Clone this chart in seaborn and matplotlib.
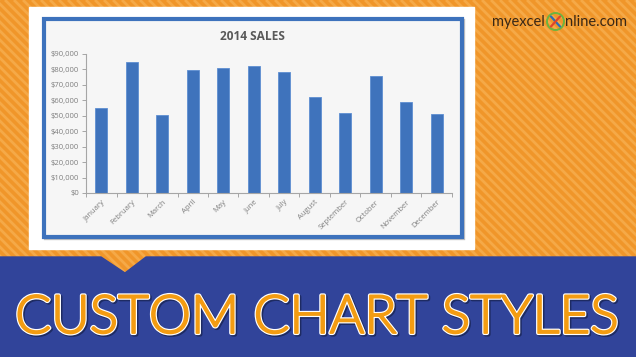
import matplotlib
matplotlib.use("Agg")
import matplotlib.pyplot as plt
import matplotlib.patheffects as pe
from matplotlib.patches import Rectangle, Polygon, Circle
from matplotlib.ticker import FuncFormatter, FixedLocator
from matplotlib import font_manager
import seaborn as sns
import pandas as pd

# ---- data ----
months = ["January", "February", "March", "April", "May", "June", "July",
          "August", "September", "October", "November", "December"]
sales = [55000, 85000, 50300, 79700, 80800, 82500, 78600,
         62200, 51800, 76000, 58700, 51000]
chart_title = "2014 SALES"
banner_text = "CUSTOM CHART STYLES"

W, H = 636, 357
sns.set_theme(style="white")
plt.rcParams['font.family'] = ['Open Sans', 'DejaVu Sans']

# pick a light weight font for the banner if available
light_candidates = []
for f in font_manager.fontManager.ttflist:
    if f.name in ("Lato", "Roboto"):
        w = f.weight if isinstance(f.weight, int) else 400
        if f.style == "normal":
            light_candidates.append((w, f.name, f.fname))
light_candidates.sort(key=lambda t: (abs(t[0] - 300), t[1]))
banner_font = None
for w, n, fn in light_candidates:
    if w <= 300:
        banner_font = fn
        break

fig = plt.figure(figsize=(W / 100, H / 100), dpi=100)

# ---- background (pixel coordinates) ----
bg = fig.add_axes([0, 0, 1, 1], zorder=0)
bg.set_xlim(0, W)
bg.set_ylim(H, 0)
bg.axis("off")
bg.add_patch(Rectangle((0, 0), W, H, color="#F0962A", zorder=0))
for c in range(-400, W + 20, 9):
    bg.plot([c, c + H], [0, H], color="#F5A947", lw=2.0, zorder=1,
            solid_capstyle="butt")

# white panel
bg.add_patch(Rectangle((29, 7), 445, 242, color="white", zorder=2))
# frame shadow
bg.add_patch(Rectangle((44.5, 20), 418.5, 218, facecolor="none",
                       edgecolor="#C0C0C0", lw=2.4, zorder=2.5))
# chart frame
bg.add_patch(Rectangle((43.5, 19), 418.5, 218, facecolor="#F6F6F6",
                       edgecolor="#3D72BC", lw=3.0, zorder=3))

# banner with notch
bg.add_patch(Polygon([(0, 257), (101, 257), (125, 273), (146, 257),
                      (W, 257), (W, H), (0, H)], closed=True,
                     color="#31449A", zorder=4))

# banner text
if banner_font:
    bkw = dict(fontproperties=font_manager.FontProperties(fname=banner_font, size=40))
else:
    bkw = dict(family=["Lato", "DejaVu Sans"], fontweight="light", fontsize=40)
bt = bg.text(317, 333, banner_text, ha="center", va="baseline",
             color="#F39C12", zorder=6, **bkw)
fig.canvas.draw()
bw = bt.get_window_extent().width
bt.set_fontsize(40 * 602 / bw)
bt.set_path_effects([
    pe.withStroke(linewidth=3.2, foreground="#1E2B63", offset=(1.0, -1.0)),
    pe.withStroke(linewidth=3.0, foreground="white"),
    pe.withStroke(linewidth=1.3, foreground="#F39C12"),
    pe.Normal(),
])

# logo
bg.text(545, 26, "myexcel", ha="right", va="baseline", fontsize=10.5,
        color="#3A2816", family=["Lato", "DejaVu Sans"], zorder=6)
bg.add_patch(Circle((555.5, 21.5), 8.5, facecolor="none",
                    edgecolor="#6DB33F", lw=1.4, zorder=6))
bg.plot([551, 560], [16.5, 26.5], color="#2E6DB4", lw=1.6, zorder=7)
bg.plot([551, 560], [26.5, 16.5], color="#E0452B", lw=1.6, zorder=7)
bg.text(565, 26, "nline.com", ha="left", va="baseline", fontsize=10.5,
        color="#3A2816", family=["Lato", "DejaVu Sans"], zorder=6)

# chart title
bg.text(252, 36, chart_title, ha="center", va="center", fontsize=8.6,
        fontweight="bold", color="#595959", zorder=6)

# ---- chart axes ----
left, right, top, bottom = 86, 452, 54, 193
ax = fig.add_axes([left / W, 1 - bottom / H, (right - left) / W,
                   (bottom - top) / H], zorder=5)
ax.patch.set_alpha(0)

df = pd.DataFrame({"Month": months, "Sales": sales})
sns.barplot(data=df, x="Month", y="Sales", color="#3F73BC", width=0.4,
            edgecolor="#5E8ED2", linewidth=0.6, saturation=1, ax=ax)

ax.set_xlim(-0.5, len(months) - 0.5)
ax.set_ylim(0, 90000)
ax.set_yticks(range(0, 90001, 10000))
ax.yaxis.set_major_formatter(FuncFormatter(lambda v, p: f"${int(v):,}"))
ax.set_xlabel("")
ax.set_ylabel("")

for s in ["top", "right"]:
    ax.spines[s].set_visible(False)
for s in ["left", "bottom"]:
    ax.spines[s].set_color("#A6A6A6")
    ax.spines[s].set_linewidth(0.8)

ax.tick_params(axis="y", which="major", length=3, width=0.7,
               color="#A6A6A6", labelsize=5.5, labelcolor="#7F7F7F", pad=2,
               left=True)
ax.tick_params(axis="x", which="major", length=0, labelsize=5.5,
               labelcolor="#7F7F7F", pad=4)
ax.xaxis.set_minor_locator(FixedLocator([i - 0.5 for i in range(len(months) + 1)]))
ax.tick_params(axis="x", which="minor", length=3, width=0.7,
               color="#A6A6A6", bottom=True)
for lab in ax.get_xticklabels():
    lab.set_rotation(45)
    lab.set_ha("right")
    lab.set_rotation_mode("anchor")
ax.grid(False)

fig.savefig("out.png", dpi=100)
